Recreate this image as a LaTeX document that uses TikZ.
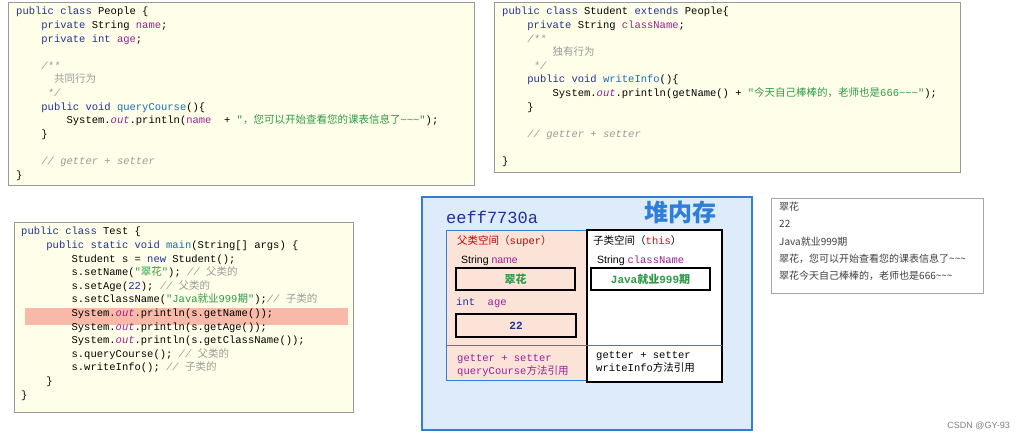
\documentclass[tikz,border=0pt]{standalone}
\usepackage{fontspec}
\setmainfont{Liberation Sans}
\setmonofont{Liberation Mono}
\newfontfamily\cjk{Noto Sans CJK SC}
\usetikzlibrary{positioning}

\definecolor{paper}{HTML}{FFFFE9}
\definecolor{kwblue}{HTML}{1F2F9F}
\definecolor{fdpurple}{HTML}{9A1F95}
\definecolor{strgreen}{HTML}{2E9A48}
\definecolor{cmgray}{HTML}{9A9A9A}
\definecolor{heapblue}{HTML}{2F7FD8}
\definecolor{heapfill}{HTML}{DDEBFA}
\definecolor{peach}{HTML}{FBE4D7}
\definecolor{hl}{HTML}{F8B9A8}

\newcommand{\kw}[1]{\textcolor{kwblue}{#1}}
\newcommand{\fd}[1]{\textcolor{fdpurple}{#1}}
\newcommand{\st}[1]{\textcolor{strgreen}{#1}}
\newcommand{\cm}[1]{\textcolor{cmgray}{\itshape #1}}
\newcommand{\tb}{\hspace*{2.4em}}
\newcommand{\zh}[1]{{\cjk #1}}

\tikzset{
  codebox/.style={draw=gray!80, fill=paper, line width=0.8pt},
  code/.style={anchor=north west, align=left, inner sep=0pt,
    font=\ttfamily\fontsize{10.5}{13.6}\selectfont},
  cell/.style={draw=black, line width=1.3pt},
  tag/.style={anchor=west, inner sep=0pt, font=\fontsize{10.5}{12}\selectfont}
}

\begin{document}
\begin{tikzpicture}[x=1pt,y=-1pt]

	% ---- frame

	\useasboundingbox (0,0) rectangle (1018,440);

	% ---- code boxes

	\draw[codebox] (8,2) rectangle (474,185);
	\node[code] (people) at (16,7) {%
		\kw{public class} People \{\\
		\tb\kw{private} String \fd{name};\\
		\tb\kw{private int} \fd{age};\\
		\mbox{}\\
		\tb\cm{/**}\\
		\tb\hspace*{1.2em}\cm{\zh{共同行为}}\\
		\tb\hspace*{0.6em}\cm{*/}\\
		\tb\kw{public void} \textcolor{kwblue!70!cyan}{queryCourse}()\{\\
		\tb\tb System.\textcolor{fdpurple}{\itshape out}.println(\fd{name}\ \ + \st{"\zh{，您可以开始查看您的课表信息了}\textasciitilde\textasciitilde\textasciitilde"});\\
		\tb\}\\
		\mbox{}\\
		\tb\cm{// getter + setter}\\
		\}};

	\draw[codebox] (494,2) rectangle (960,172);
	\node[code] (student) at (502,7) {%
		\kw{public class} Student \kw{extends} People\{\\
		\tb\kw{private} String \fd{className};\\
		\tb\cm{/**}\\
		\tb\tb\cm{\zh{独有行为}}\\
		\tb\hspace*{0.6em}\cm{*/}\\
		\tb\kw{public void} \textcolor{kwblue!70!cyan}{writeInfo}()\{\\
		\tb\tb System.\textcolor{fdpurple}{\itshape out}.println(getName() + \st{"\zh{今天自己棒棒的，老师也是}666\textasciitilde\textasciitilde\textasciitilde"});\\
		\tb\}\\
		\mbox{}\\
		\tb\cm{// getter + setter}\\
		\mbox{}\\
		\}};

	\draw[codebox] (14,222) rectangle (353,412);
	\fill[hl] (25,308) rectangle (348,325);
	\node[code] (test) at (21,227) {%
		\kw{public class} Test \{\\
		\tb\kw{public static void} \textcolor{kwblue!70!cyan}{main}(String[] args) \{\\
		\tb\tb Student s = \kw{new} Student();\\
		\tb\tb s.setName(\st{"\zh{翠花}"}); \cm{// \zh{父类的}}\\
		\tb\tb s.setAge(\kw{22}); \cm{// \zh{父类的}}\\
		\tb\tb s.setClassName(\st{"Java\zh{就业}999\zh{期}"});\cm{// \zh{子类的}}\\
		\tb\tb System.\textcolor{fdpurple}{\itshape out}.println(s.getName());\\
		\tb\tb System.\textcolor{fdpurple}{\itshape out}.println(s.getAge());\\
		\tb\tb System.\textcolor{fdpurple}{\itshape out}.println(s.getClassName());\\
		\tb\tb s.queryCourse(); \cm{// \zh{父类的}}\\
		\tb\tb s.writeInfo(); \cm{// \zh{子类的}}\\
		\tb\}\\
		\}};

	% ---- heap

	\draw[draw=heapblue, fill=heapfill, line width=2.2pt] (422,197) rectangle (752,430);
	\node[anchor=west, inner sep=0pt, font=\ttfamily\fontsize{17}{18}\selectfont, text=kwblue] (addr) at (446,217) {eeff7730a};
	\node[anchor=center, inner sep=0pt, font=\cjk\bfseries\fontsize{24}{26}\selectfont, text=heapblue] (heap) at (680,212) {堆内存};

	\draw[draw=heapblue, fill=peach, line width=1pt] (446,230) rectangle (587,380);
	\draw[cell, fill=white] (587,230) rectangle (722,382);
	\draw[heapblue, line width=1pt] (446,345) -- (722,345);

	\node[tag, text=red!75!black] (super) at (457,241) {\zh{父类空间（}\texttt{super}\zh{）}};
	\node[tag] (this) at (593,241) {\zh{子类空间（}\texttt{\textcolor{red}{this}}\zh{）}};

	\node[tag] (tname) at (461,261) {String \textcolor{fdpurple}{name}};
	\node[cell, fill=peach, minimum width=119, minimum height=22, inner sep=0pt] (vname) at (515.5,279)
		{\textcolor{strgreen}{\cjk\bfseries\fontsize{11}{12}\selectfont 翠花}};

	\node[tag, font=\ttfamily\fontsize{10.5}{12}\selectfont] (tage) at (456,303) {\kw{int}\ \ \textcolor{fdpurple}{age}};
	\node[cell, fill=peach, minimum width=120, minimum height=23, inner sep=0pt] (vage) at (516,325.5)
		{\textcolor{kwblue}{\ttfamily\bfseries\fontsize{11}{12}\selectfont 22}};

	\node[tag] (tclass) at (597,261) {String \texttt{\textcolor{fdpurple}{className}}};
	\node[cell, minimum width=119, minimum height=22, inner sep=0pt] (vclass) at (650.5,279)
		{\textcolor{strgreen}{\ttfamily\bfseries\fontsize{11}{12}\selectfont Java\zh{就业}999\zh{期}}};

	\node[tag, align=left, font=\ttfamily\fontsize{10.5}{13}\selectfont, text=fdpurple] (pmeth) at (457,366)
		{getter + setter\\queryCourse\zh{方法引用}};
	\node[tag, align=left, font=\ttfamily\fontsize{10.5}{13}\selectfont] (cmeth) at (596,362)
		{getter + setter\\writeInfo\zh{方法引用}};

	% ---- console

	\draw[draw=gray!70, fill=white, line width=0.6pt] (771,198) rectangle (983,293);
	\node[anchor=north west, align=left, inner sep=0pt, text=black!75,
		font=\cjk\fontsize{10}{17.3}\selectfont] (out) at (779,202)
		{翠花\\22\\Java就业999期\\翠花，您可以开始查看您的课表信息了\textasciitilde\textasciitilde\textasciitilde\\翠花今天自己棒棒的，老师也是666\textasciitilde\textasciitilde\textasciitilde};

	\node[anchor=east, inner sep=0pt, text=gray, font=\fontsize{9}{10}\selectfont] (csdn) at (1010,426) {CSDN @GY-93};

\end{tikzpicture}
\end{document}
